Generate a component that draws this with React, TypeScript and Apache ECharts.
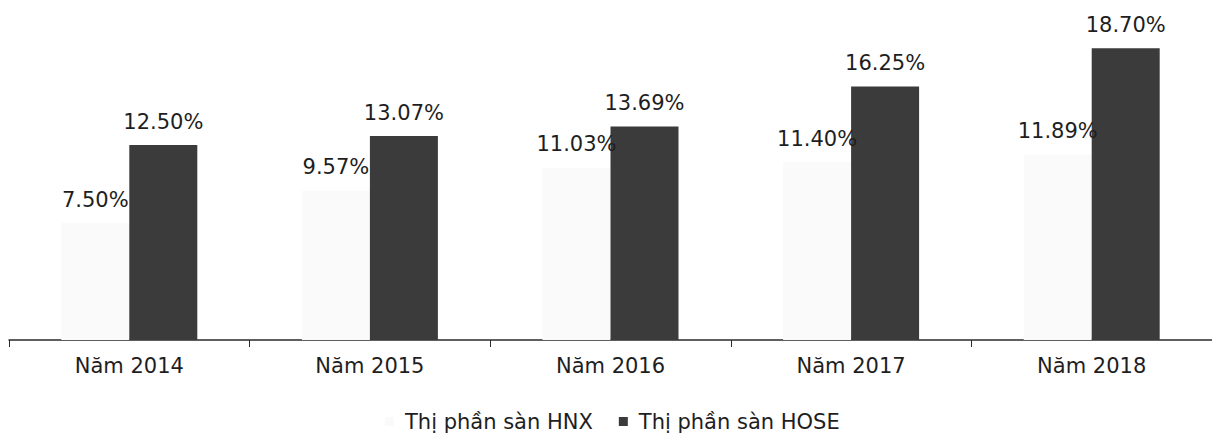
import React, { useEffect, useRef } from "react";
import * as echarts from "echarts";

const categories = ["Năm 2014", "Năm 2015", "Năm 2016", "Năm 2017", "Năm 2018"];
const hnxValues = [7.5, 9.57, 11.03, 11.4, 11.89];
const hoseValues = [12.5, 13.07, 13.69, 16.25, 18.7];
const seriesNames = ["Thị phần sàn HNX", "Thị phần sàn HOSE"];

export default function App() {
  const ref = useRef<HTMLDivElement>(null);
  useEffect(() => {
    if (!ref.current) return;
    const chart = echarts.init(ref.current, null, { renderer: "svg" });
    const font = "'DejaVu Sans', sans-serif";
    const label = {
      show: true,
      position: "top",
      distance: 13,
      fontSize: 21,
      fontFamily: font,
      color: "#1e1e1e",
      formatter: (p: any) => p.value.toFixed(2) + "%",
    };
    chart.setOption({
      animation: false,
      backgroundColor: "#ffffff",
      grid: { left: 9, right: 0, top: 28, bottom: 98 },
      legend: {
        bottom: 1,
        left: 380,
        itemWidth: 9,
        itemHeight: 9,
        itemGap: 26,
        icon: "rect",
        textStyle: { fontSize: 21, fontFamily: font, color: "#1e1e1e", padding: [0, 0, 0, 6] },
        data: seriesNames,
      },
      xAxis: {
        type: "category",
        data: categories,
        axisLine: { lineStyle: { color: "#2a2a2a", width: 1.5 } },
        axisTick: { show: true, length: 7, lineStyle: { color: "#2a2a2a" } },
        axisLabel: { fontSize: 21, fontFamily: font, color: "#1e1e1e", margin: 15 },
      },
      yAxis: {
        type: "value",
        min: 0,
        max: 20,
        show: false,
        splitLine: { show: false },
      },
      series: [
        {
          name: seriesNames[0],
          type: "bar",
          data: hnxValues,
          barWidth: 68,
          barGap: "0%",
          itemStyle: { color: "#fafafa" },
          label,
        },
        {
          name: seriesNames[1],
          type: "bar",
          data: hoseValues,
          barWidth: 68,
          barGap: "0%",
          itemStyle: { color: "#3b3b3b" },
          label,
        },
      ],
    });
    return () => chart.dispose();
  }, []);
  return <div ref={ref} style={{ width: 1212, height: 438, position: "absolute", left: 0, top: 0 }} />;
}
